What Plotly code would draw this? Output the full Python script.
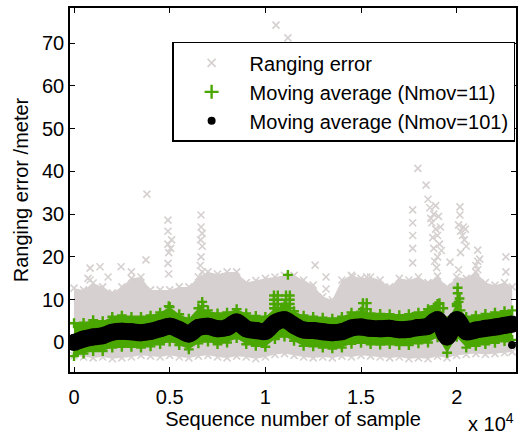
import plotly.graph_objects as go

# ---- data -----------------------------------------------------------------
sample_idx = [0, 500, 1000, 1500, 2000, 2500, 3000, 3500, 4000, 4500, 5000, 5500,
              6000, 6500, 7000, 7500, 8000, 8500, 9000, 9500, 10000, 10500, 11000,
              11500, 12000, 12500, 13000, 13500, 14000, 14500, 15000, 15500, 16000,
              16500, 17000, 17500, 18000, 18500, 19000, 19500, 20000, 20500, 21000,
              21500, 22000, 22500, 22900]

# dense band of raw ranging errors (upper / lower envelope)
err_hi = [12.7, 12.3, 13.9, 13.0, 11.6, 13.0, 15.0, 15.3, 12.3, 12.3, 12.3, 13.0,
          13.0, 15.3, 16.5, 16.0, 16.5, 16.5, 14.0, 14.5, 15.0, 15.3, 15.7, 15.7,
          14.6, 13.4, 10.7, 10.0, 14.6, 15.7, 15.0, 15.3, 14.6, 13.0, 15.0, 14.6,
          15.3, 14.0, 15.5, 13.0, 15.3, 15.0, 16.5, 14.0, 13.4, 14.0, 13.0]
err_lo = [-3.1, -3.4, -3.6, -3.4, -3.8, -3.6, -3.4, -3.0, -3.2, -3.4, -3.0, -3.4,
          -3.6, -3.2, -3.0, -3.4, -3.6, -3.2, -3.4, -3.8, -3.4, -2.8, -2.6, -3.0,
          -3.4, -3.6, -3.4, -3.6, -3.2, -3.4, -3.0, -3.2, -3.4, -3.6, -3.4, -3.8,
          -3.6, -3.8, -3.2, -3.6, -3.0, -2.8, -2.6, -2.8, -2.6, -2.4, -2.2]

# isolated large ranging errors
err_out_x = [840, 840, 730, 1360, 1780, 2460, 3000, 3760, 3810, 4910, 4910, 4910,
             4950, 4910, 4950, 5100, 5050, 6640, 6640, 6700, 6620, 6700, 6640, 6600,
             6700, 10555, 11180, 12600, 13170, 13170, 14550, 15300, 17700, 17700,
             17700, 17700, 17700, 17970, 18400, 18500, 18600, 18800, 18700, 18900,
             19000, 19100, 18800, 19200, 19650, 20170, 20170, 20100, 20200, 20300,
             20400, 20500, 20200, 20100, 21100, 21100, 21100, 22570, 22570,
             18650, 18900, 19050, 18750, 19000, 18950, 19150, 18850, 20350, 20450,
             21000, 21200]
err_out_y = [17.4, 14.6, 15.0, 17.7, 15.3, 17.7, 16.5, 19.3, 34.7, 28.6, 26.0, 23.0,
             21.0, 18.5, 16.0, 24.0, 22.0, 29.8, 27.0, 25.5, 24.0, 22.5, 20.0, 18.0,
             16.5, 74.2, 71.2, 18.1, 15.3, 12.5, 15.3, 15.3, 31.0, 28.0, 25.0, 22.0,
             18.6, 40.7, 36.8, 33.5, 31.5, 30.0, 28.0, 26.5, 25.0, 23.0, 22.0, 21.5,
             18.8, 31.7, 29.8, 27.5, 26.0, 25.0, 24.0, 22.5, 21.0, 17.0, 21.6, 19.0,
             17.0, 20.0, 16.5,
             29.0, 32.0, 29.5, 24.5, 20.0, 17.5, 27.0, 19.0, 27.0, 26.5,
             18.0, 19.5]

# moving average, Nmov = 11 (band envelope)
ma11_hi = [4.5, 4.6, 5.2, 5.0, 6.0, 6.3, 6.0, 6.0, 6.3, 7.0, 8.3, 6.6, 5.6, 8.0,
           7.5, 6.8, 7.0, 7.8, 6.8, 6.2, 6.0, 8.0, 8.5, 7.3, 6.3, 6.0, 5.8, 5.6,
           6.0, 7.0, 7.2, 6.8, 6.7, 6.6, 6.4, 6.6, 7.0, 7.8, 9.0, 5.0, 9.0, 6.0,
           6.3, 6.7, 7.0, 7.3, 7.5]
ma11_lo = [-3.2, -2.6, -2.0, -2.0, -1.2, -1.0, -1.0, -1.2, -0.9, -0.4, 0.2, -0.6,
           -1.6, -0.2, 0.2, -0.4, 0.0, 1.0, -0.4, -0.8, -1.0, 0.8, 1.4, 0.4, -0.8,
           -0.9, -1.2, -1.4, -1.2, -0.3, -0.1, -0.4, -0.5, -0.4, -0.6, -0.6, -0.2,
           0.0, 1.2, -2.4, 1.3, -1.2, -0.8, -0.4, -0.1, 0.3, 0.6]
ma11_out_x = [10450, 10450, 10450, 10450, 10650, 10650, 10650, 10650,
              11080, 11080, 11080, 11080, 11280, 11280, 11280, 11280, 11180,
              15100, 15300, 15100, 15300, 17700, 18400, 18600, 18900, 19000, 19100,
              19300, 20000, 20050, 20050, 20150, 20100, 20200, 20000, 6700, 6750, 4950]
ma11_out_y = [8.0, 9.0, 10.0, 11.0, 8.0, 9.0, 10.0, 11.0,
              8.0, 9.0, 10.0, 11.0, 8.0, 9.0, 10.0, 11.0, 15.8,
              7.8, 7.8, 9.2, 9.2, 6.0, 6.8, 7.5, 8.5, 7.0, 9.2,
              8.0, 6.5, 12.8, 11.5, 10.3, 9.5, 7.5, 8.5, 9.5, 8.5, 8.5]

# moving average, Nmov = 101
ma101 = [0.0, 0.8, 1.3, 1.6, 2.4, 2.6, 2.5, 2.3, 2.6, 3.2, 3.8, 3.0, 2.0, 3.5, 3.8,
         3.2, 3.5, 4.8, 3.2, 2.8, 2.6, 4.6, 5.3, 4.0, 2.9, 2.8, 2.5, 2.3, 2.5, 3.4,
         3.6, 3.3, 3.2, 3.3, 3.0, 3.1, 3.5, 3.8, 5.3, 1.3, 5.3, 2.5, 2.9, 3.3, 3.6,
         4.0, 4.3]
ma101_last_x = [22890]
ma101_last_y = [-0.6]

x_tick_vals = [0, 5000, 10000, 15000, 20000]
x_tick_text = ["0", "0.5", "1", "1.5", "2"]
y_tick_vals = [0, 10, 20, 30, 40, 50, 60, 70]

# ---- styles ---------------------------------------------------------------
GRAY = "rgb(214,208,208)"
GREEN = "rgb(74,166,0)"
FONT = "Liberation Sans, Arial, sans-serif"

fig = go.Figure()


def band(hi, lo, color):
    return go.Scatter(x=sample_idx + sample_idx[::-1], y=hi + lo[::-1],
                      fill="toself", fillcolor=color, mode="lines",
                      line=dict(width=0, color=color), showlegend=False,
                      hoverinfo="skip")


# raw ranging errors
fig.add_trace(band(err_hi, err_lo, GRAY))
fig.add_trace(go.Scatter(x=sample_idx + sample_idx + err_out_x,
                         y=err_hi + err_lo + err_out_y, mode="markers",
                         marker=dict(symbol="x-thin", size=7,
                                     line=dict(width=1.6, color=GRAY)),
                         showlegend=False))

# moving average Nmov=11
fig.add_trace(band(ma11_hi, ma11_lo, GREEN))
fig.add_trace(go.Scatter(x=sample_idx + sample_idx + ma11_out_x,
                         y=ma11_hi + ma11_lo + ma11_out_y, mode="markers",
                         marker=dict(symbol="cross-thin", size=7,
                                     line=dict(width=2.4, color=GREEN)),
                         showlegend=False))

# moving average Nmov=101
fig.add_trace(go.Scatter(x=sample_idx, y=ma101, mode="lines+markers",
                         line=dict(width=17, color="black", shape="spline"),
                         marker=dict(size=17, color="black"),
                         showlegend=False))
fig.add_trace(go.Scatter(x=ma101_last_x, y=ma101_last_y, mode="markers",
                         marker=dict(size=8, color="black"), showlegend=False))

# legend entries
fig.add_trace(go.Scatter(x=[None], y=[None], mode="markers", name="Ranging error",
                         marker=dict(symbol="x-thin", size=8,
                                     line=dict(width=1.6, color=GRAY))))
fig.add_trace(go.Scatter(x=[None], y=[None], mode="markers",
                         name="Moving average (Nmov=11)",
                         marker=dict(symbol="cross-thin", size=10,
                                     line=dict(width=2.4, color=GREEN))))
fig.add_trace(go.Scatter(x=[None], y=[None], mode="markers",
                         name="Moving average (Nmov=101)",
                         marker=dict(symbol="circle", size=8, color="black")))

axis_common = dict(showgrid=False, zeroline=False, showline=True, linecolor="black",
                   linewidth=1.5, mirror="ticks", ticks="inside", ticklen=5,
                   tickwidth=1, tickcolor="black",
                   tickfont=dict(family=FONT, size=20, color="black"))

fig.update_xaxes(range=[-210, 23100], tickvals=x_tick_vals, ticktext=x_tick_text,
                 ticklabelstandoff=6,
                 title=dict(text="Sequence number of sample", standoff=0,
                            font=dict(family=FONT, size=20, color="black")),
                 **axis_common)
fig.update_yaxes(range=[-6.9, 78.2], tickvals=y_tick_vals,
                 title=dict(text="Ranging error /meter", standoff=8,
                            font=dict(family=FONT, size=20, color="black")),
                 **axis_common)

fig.add_annotation(text="x 10<sup>4</sup>", xref="paper", yref="paper",
                   x=1.0, y=-0.14, xanchor="right", yanchor="middle",
                   showarrow=False, font=dict(family=FONT, size=20, color="black"))

fig.update_layout(
    width=518, height=437,
    margin=dict(l=70, r=2, t=8, b=65, autoexpand=False),
    paper_bgcolor="white", plot_bgcolor="white",
    font=dict(family=FONT, size=20, color="black"),
    legend=dict(x=0.998, y=0.907, xanchor="right", yanchor="top",
                bgcolor="white", bordercolor="black", borderwidth=1.5,
                font=dict(family=FONT, size=20, color="black"),
                itemwidth=66, tracegroupgap=0),
    showlegend=True,
)

fig.write_html("out.html")
